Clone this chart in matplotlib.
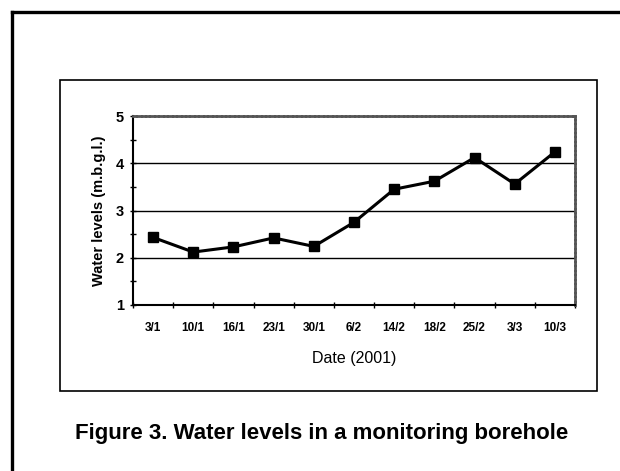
import matplotlib
matplotlib.use("Agg")
import matplotlib.pyplot as plt
from matplotlib.lines import Line2D
from matplotlib.patches import Rectangle
from matplotlib.ticker import MultipleLocator

# Borehole water levels (m below ground level)
dates = ['3/1', '10/1', '16/1', '23/1', '30/1', '6/2', '14/2', '18/2', '25/2', '3/3', '10/3']
levels = [2.43, 2.12, 2.23, 2.42, 2.24, 2.75, 3.45, 3.62, 4.12, 3.56, 4.24]
y_ticks = [1, 2, 3, 4, 5]

plt.rcParams['font.family'] = ['Liberation Sans', 'DejaVu Sans']

W, H = 620, 471
fig = plt.figure(figsize=(W / 100, H / 100), dpi=100)


def px_box(x0, y0, x1, y1):
    # pixel box (top-left origin) -> figure fraction [left, bottom, width, height]
    return [x0 / W, 1 - y1 / H, (x1 - x0) / W, (y1 - y0) / H]


# outer page frame (runs off the right and bottom edges)
fig.add_artist(Line2D([12 / W, 12 / W], [0, 1 - 12 / H], color='black', lw=2.4,
                      transform=fig.transFigure))
fig.add_artist(Line2D([12 / W, 1], [1 - 12 / H, 1 - 12 / H], color='black', lw=2.4,
                      transform=fig.transFigure))

# chart box
b = px_box(59.5, 80, 597, 391)
fig.add_artist(Rectangle((b[0], b[1]), b[2], b[3], fill=False, ec='black', lw=1.2,
                         transform=fig.transFigure))

ax = fig.add_axes(px_box(133, 116, 575, 305))
x = list(range(len(dates)))
ax.plot(x, levels, color='black', lw=2.2, marker='s', markersize=7.5,
        markerfacecolor='black', markeredgecolor='black', zorder=3)

ax.set_xlim(-0.5, len(dates) - 0.5)
ax.set_ylim(1, 5)
ax.set_yticks(y_ticks)
ax.yaxis.set_minor_locator(MultipleLocator(0.5))
ax.set_xticks(x)
ax.set_xticklabels(dates, fontsize=8.5, fontweight='bold')
ax.set_xticks([i + 0.5 for i in range(-1, len(dates))], minor=True)
ax.tick_params(axis='x', which='major', length=0, pad=12.5)
ax.tick_params(axis='x', which='minor', length=4, width=1, direction='inout')
ax.tick_params(axis='y', which='major', length=5, width=1, direction='inout',
               labelsize=10.5, pad=4)
ax.tick_params(axis='y', which='minor', length=5, width=1, direction='inout')
for t in ax.get_yticklabels():
    t.set_fontweight('bold')

for v in [2, 3, 4]:
    ax.axhline(v, color='black', lw=1.0, zorder=1)

for s in ['top', 'right']:
    ax.spines[s].set_color('#555555')
    ax.spines[s].set_linewidth(2.0)
    ax.spines[s].set_linestyle((0, (1, 0.6)))
for s in ['left', 'bottom']:
    ax.spines[s].set_color('black')
    ax.spines[s].set_linewidth(1.5)

ax.set_ylabel('Water levels (m.b.g.l.)', fontsize=10.5, fontweight='bold', labelpad=7)
ax.set_xlabel('Date (2001)', fontsize=11.5, labelpad=12)

fig.text(322 / W, 1 - 433 / H, 'Figure 3. Water levels in a monitoring borehole',
         ha='center', va='center', fontsize=16, fontweight='bold')

fig.savefig('out.png', dpi=100)
